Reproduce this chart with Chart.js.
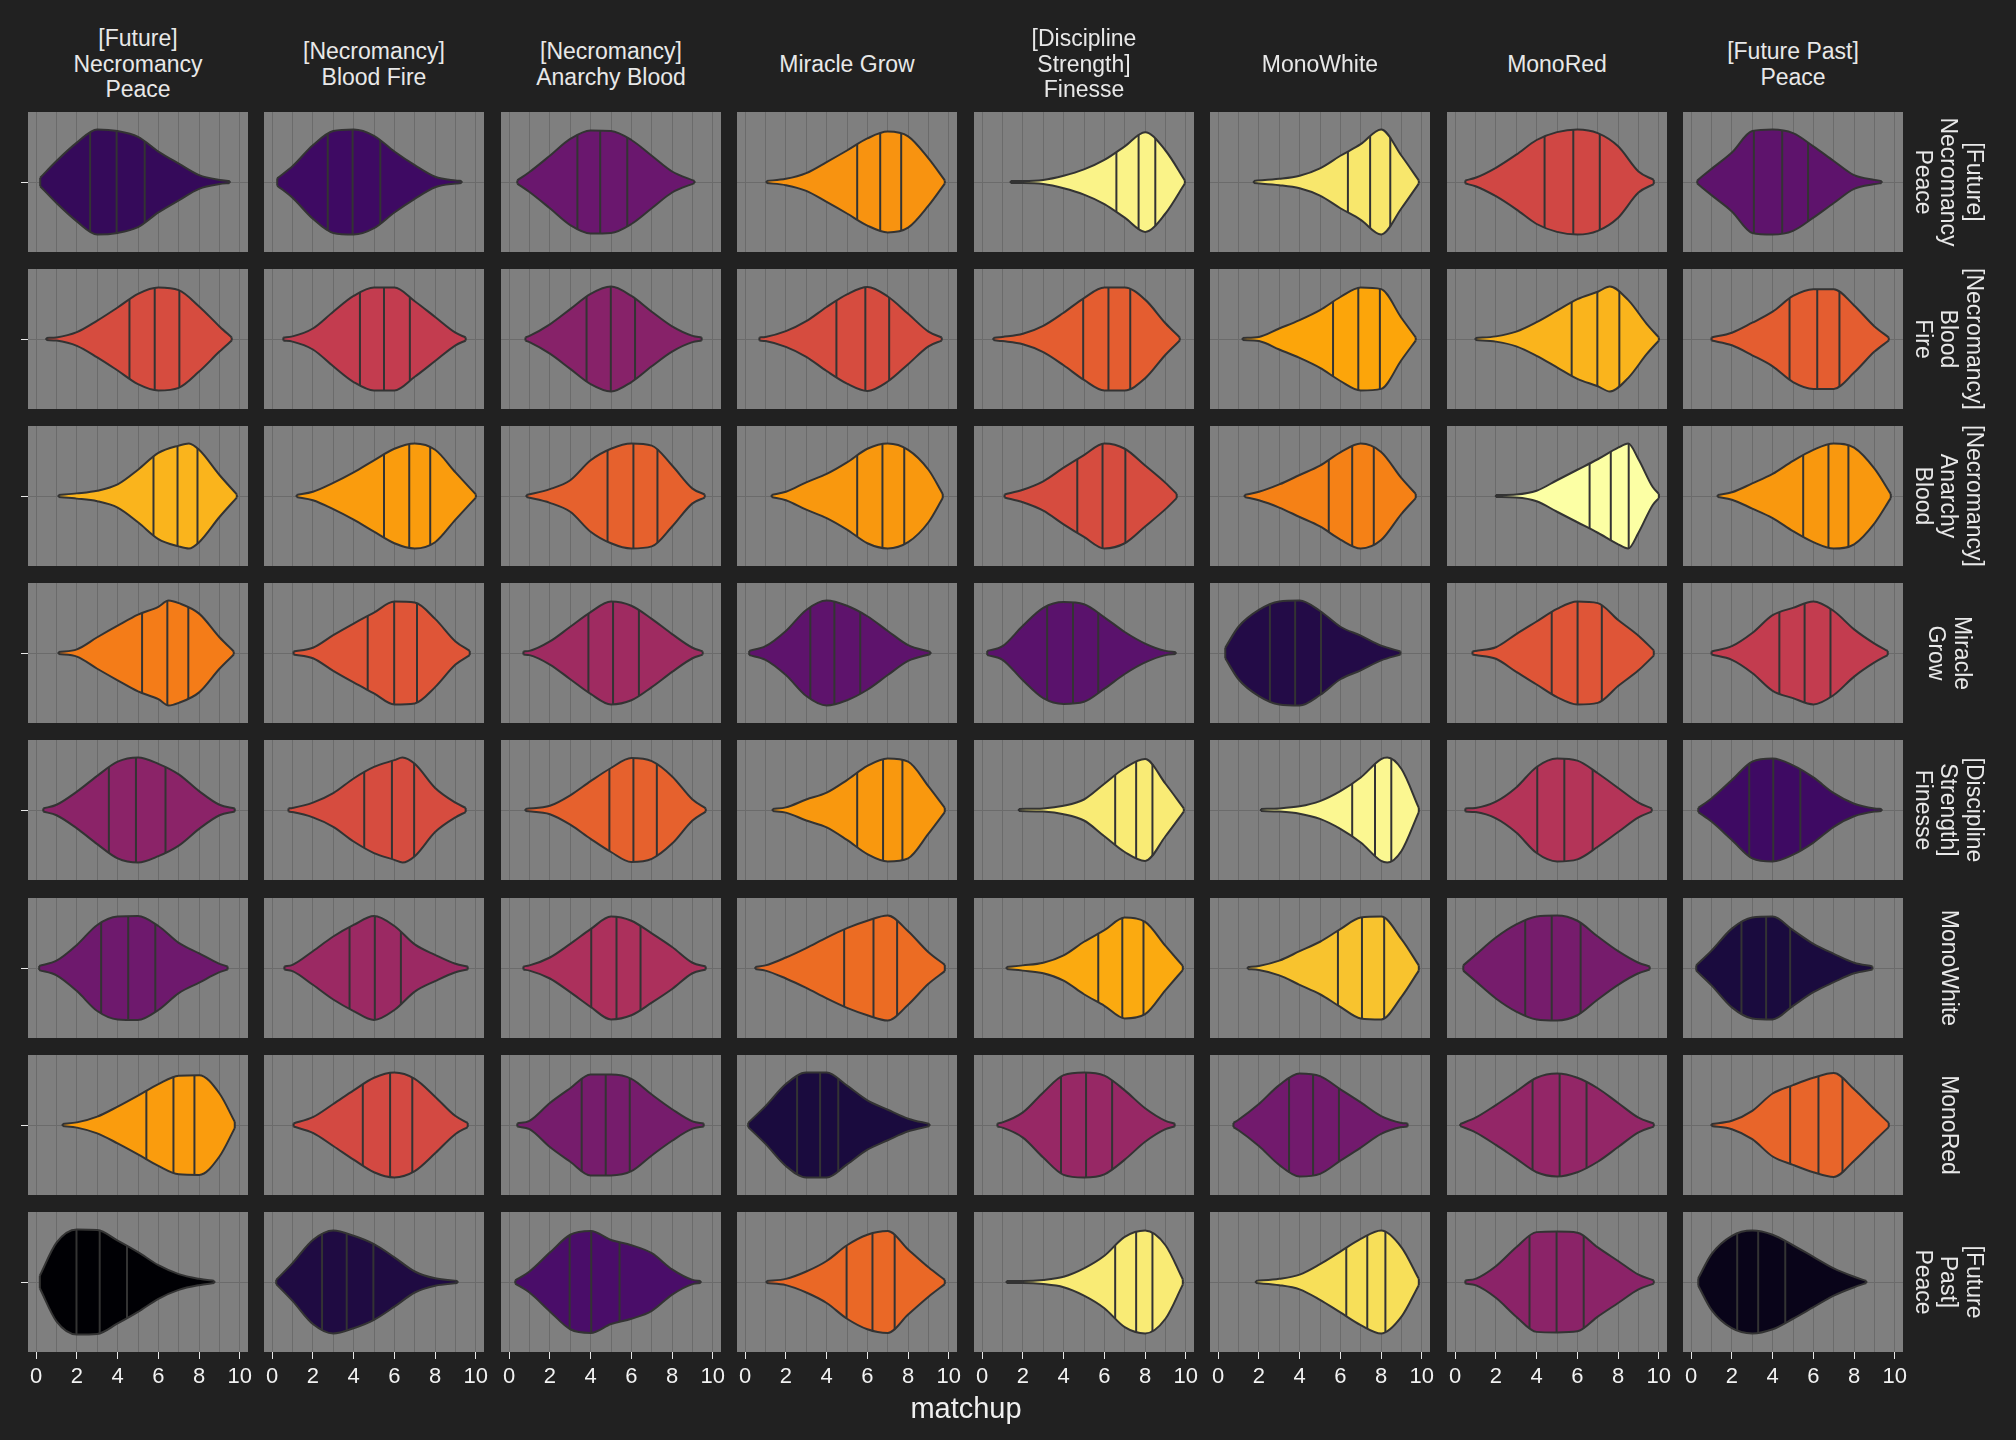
<!DOCTYPE html>
<html><head><meta charset="utf-8">
<script src="https://cdn.jsdelivr.net/npm/chart.js@4/dist/chart.umd.min.js"></script>
<style>
html,body{margin:0;padding:0;background:#212121;}
body{width:2016px;height:1440px;position:relative;overflow:hidden;font-family:"Liberation Sans",Arial,sans-serif;}
canvas{position:absolute;}
.strip{position:absolute;color:#e8e8e8;font-size:23px;line-height:25.5px;text-align:center;white-space:pre;}
.rstrip{position:absolute;color:#e8e8e8;font-size:23px;line-height:25.5px;text-align:center;white-space:pre;width:180px;transform:translate(-50%,-50%) rotate(90deg);}
#xtitle{position:absolute;color:#f0f0f0;font-size:29px;line-height:29px;left:866px;width:200px;text-align:center;top:1394px;}
</style></head><body>
<script>
// ---------- data ----------
const colLabels = ["[Future]\nNecromancy\nPeace","[Necromancy]\nBlood Fire","[Necromancy]\nAnarchy Blood","Miracle Grow","[Discipline\nStrength]\nFinesse","MonoWhite","MonoRed","[Future Past]\nPeace"];
const rowLabels = ["[Future]\nNecromancy\nPeace","[Necromancy]\nBlood\nFire","[Necromancy]\nAnarchy\nBlood","Miracle\nGrow","[Discipline\nStrength]\nFinesse","MonoWhite","MonoRed","[Future\nPast]\nPeace"];
const xTickValues = [0,1,2,3,4,5,6,7,8,9,10];
const xAxisTitle = "matchup";

// colour-scale position of each panel's fill (0 = darkest, 1 = lightest)
const fillLevel = [
  [0.17,0.19,0.30,0.76,0.97,0.94,0.56,0.27],
  [0.58,0.52,0.37,0.58,0.63,0.80,0.83,0.63],
  [0.83,0.78,0.64,0.77,0.58,0.72,1.00,0.77],
  [0.71,0.61,0.43,0.27,0.26,0.13,0.61,0.52],
  [0.38,0.58,0.64,0.77,0.95,0.98,0.48,0.19],
  [0.31,0.42,0.46,0.67,0.81,0.86,0.33,0.11],
  [0.78,0.57,0.33,0.11,0.41,0.32,0.40,0.65],
  [0.00,0.12,0.22,0.66,0.95,0.92,0.38,0.04]
];

// 25% / 50% / 75% quantiles per panel
const quartiles = [
  [[2.65,3.95,5.33],[2.73,3.95,5.31],[3.35,4.47,5.8],[5.5,6.63,7.66],[6.59,7.68,8.5],[6.37,7.46,8.45],[4.39,5.8,7.1],[3.08,4.47,5.74]],
  [[4.58,5.82,7.03],[4.31,5.49,6.76],[3.8,4.99,6.18],[4.48,5.9,7.07],[4.96,6.2,7.27],[5.64,6.88,7.94],[5.72,6.98,8.06],[4.83,6.19,7.28]],
  [[5.76,6.94,7.92],[5.49,6.73,7.76],[4.83,6.1,7.28],[5.5,6.74,7.81],[4.67,5.91,7.03],[5.43,6.58,7.64],[6.6,7.64,8.52],[5.5,6.74,7.72]],
  [[5.2,6.44,7.47],[4.69,5.99,7.11],[3.89,5.1,6.37],[3.2,4.38,5.65],[3.19,4.46,5.7],[2.54,3.78,5.05],[4.74,6.01,7.2],[4.33,5.57,6.84]],
  [[3.57,4.9,6.35],[4.52,5.88,6.97],[4.92,6.1,7.25],[5.5,6.77,7.72],[6.53,7.56,8.36],[6.58,7.7,8.5],[4.03,5.36,6.75],[2.85,4.03,5.36]],
  [[3.19,4.52,5.85],[3.8,5.04,6.32],[4.03,5.27,6.45],[4.86,6.3,7.46],[5.7,6.88,7.92],[5.88,7.06,8.15],[3.44,4.74,6.16],[2.47,3.68,4.86]],
  [[5.41,6.74,7.77],[4.45,5.79,6.88],[3.56,4.74,5.92],[2.55,3.68,4.57],[3.87,5.1,6.38],[3.48,4.66,5.93],[3.8,5.13,6.45],[4.86,6.25,7.43]],
  [[1.98,3.12,4.46],[2.45,3.66,4.97],[2.97,4.03,5.42],[4.98,6.25,7.34],[6.53,7.56,8.36],[6.29,7.32,8.21],[3.65,4.98,6.31],[2.26,3.29,4.62]]
];

// density profiles: [matchup value, relative density]
const densityRow1 = [
  [[0.2,0.08],[1,0.4],[2,0.75],[3,1.0],[4,0.97],[5,0.86],[6,0.58],[7,0.35],[8,0.13],[9,0.04],[9.5,0.02]],
  [[0.25,0.07],[1,0.3],[2,0.7],[3,0.97],[4,1.0],[5,0.88],[6,0.58],[7,0.32],[8,0.1],[9,0.03],[9.3,0.02]],
  [[0.4,0.03],[1,0.19],[2,0.5],[3,0.82],[4,0.98],[5,0.97],[6,0.8],[7,0.5],[8,0.2],[9.1,0.02]],
  [[1.05,0.02],[2,0.06],[3,0.17],[4,0.38],[5,0.6],[6,0.83],[7,0.96],[8,0.87],[9,0.45],[9.8,0.03]],
  [[1.4,0.02],[2,0.02],[3,0.04],[4,0.12],[5,0.24],[6,0.42],[7,0.68],[8,0.95],[9,0.6],[9.95,0.03]],
  [[1.75,0.02],[3,0.06],[4,0.12],[5,0.26],[6,0.5],[7,0.72],[8,1.0],[9,0.5],[9.85,0.03]],
  [[0.5,0.03],[1,0.08],[2,0.27],[3,0.52],[4,0.8],[5,0.95],[6,1.0],[7,0.93],[8,0.68],[9,0.2],[9.75,0.04]],
  [[0.3,0.03],[1,0.25],[2,0.56],[3,0.97],[4,1.0],[5,0.93],[6,0.68],[7,0.4],[8,0.13],[9,0.04],[9.35,0.02]]
];
const densityRow2 = [
  [[0.5,0.02],[1,0.03],[2,0.13],[3,0.35],[4,0.6],[5,0.86],[6,0.98],[7,0.93],[8,0.62],[9,0.24],[9.6,0.03]],
  [[0.55,0.03],[1,0.05],[2,0.2],[3,0.52],[4,0.82],[5,0.98],[6,0.98],[7,0.72],[8,0.42],[9,0.12],[9.5,0.03]],
  [[0.8,0.03],[1,0.06],[2,0.28],[3,0.57],[4,0.86],[5,1.0],[6,0.82],[7,0.52],[8,0.24],[9,0.06],[9.45,0.03]],
  [[0.7,0.03],[1,0.04],[2,0.15],[3,0.34],[4,0.61],[5,0.85],[6,0.99],[7,0.81],[8,0.48],[9,0.14],[9.65,0.03]],
  [[0.55,0.02],[1,0.04],[2,0.1],[3,0.25],[4,0.5],[5,0.78],[6,0.98],[7,0.98],[8,0.75],[9,0.3],[9.7,0.03]],
  [[1.2,0.02],[2,0.04],[3,0.2],[4,0.36],[5,0.55],[6,0.8],[7,0.98],[8,0.95],[9,0.4],[9.7,0.03]],
  [[1.0,0.02],[2,0.05],[3,0.14],[4,0.32],[5,0.54],[6,0.76],[7,0.9],[7.6,1.0],[8.5,0.74],[9.4,0.29],[10,0.03]],
  [[1.0,0.03],[2,0.12],[3,0.31],[4,0.52],[5,0.82],[6,0.95],[7,0.95],[8,0.64],[9,0.24],[9.7,0.03]]
];
const densityRow3 = [
  [[1.1,0.02],[2,0.05],[3,0.1],[4,0.22],[5,0.5],[6,0.82],[7,0.96],[7.5,1.0],[8,0.88],[9,0.4],[9.85,0.03]],
  [[1.2,0.02],[2,0.08],[3,0.25],[4,0.45],[5,0.68],[6,0.9],[7,1.0],[8,0.88],[9,0.45],[10,0.03]],
  [[0.85,0.02],[2,0.13],[3,0.3],[4,0.68],[5,0.9],[6,1.0],[7,0.96],[8,0.58],[9,0.14],[9.6,0.03]],
  [[1.3,0.02],[2,0.08],[3,0.26],[4,0.42],[5,0.64],[6,0.9],[7,1.0],[8,0.88],[9,0.5],[9.7,0.04]],
  [[1.1,0.03],[2,0.12],[3,0.28],[4,0.54],[5,0.78],[6,1.0],[7,0.9],[8,0.58],[9,0.25],[9.55,0.04]],
  [[1.3,0.02],[2,0.08],[3,0.22],[4,0.4],[5,0.58],[6,0.83],[7,1.0],[8,0.84],[9,0.34],[9.7,0.04]],
  [[2.0,0.02],[3,0.03],[4,0.1],[5,0.3],[6,0.5],[7,0.7],[8,0.92],[8.5,1.0],[9,0.7],[9.7,0.17],[10,0.04]],
  [[1.3,0.02],[2,0.07],[3,0.24],[4,0.42],[5,0.67],[6,0.88],[7,1.0],[8,0.92],[9,0.52],[9.8,0.04]]
];
const densityRow4 = [
  [[1.1,0.02],[2,0.07],[3,0.3],[4,0.52],[5,0.73],[6,0.88],[6.5,1.0],[7,0.95],[8,0.75],[9,0.3],[9.7,0.03]],
  [[1.05,0.03],[2,0.1],[3,0.34],[4,0.56],[5,0.77],[6,0.98],[7,0.96],[8,0.65],[9,0.22],[9.7,0.04]],
  [[0.7,0.03],[1,0.04],[2,0.22],[3,0.5],[4,0.78],[5,0.98],[6,0.9],[7,0.65],[8,0.36],[9,0.1],[9.5,0.03]],
  [[0.2,0.04],[1,0.13],[2,0.42],[3,0.82],[4,1.0],[5,0.9],[6,0.7],[7,0.42],[8,0.15],[9.1,0.02]],
  [[0.25,0.04],[1,0.13],[2,0.52],[3,0.86],[4,0.97],[5,0.93],[6,0.68],[7,0.4],[8,0.18],[9,0.04],[9.5,0.02]],
  [[0.35,0.1],[1,0.5],[2,0.82],[3,0.98],[4,1.0],[5,0.8],[6,0.5],[7,0.33],[8,0.14],[8.95,0.03]],
  [[0.85,0.03],[1,0.04],[2,0.11],[3,0.36],[4,0.6],[5,0.84],[6,0.98],[7,0.95],[8,0.63],[9,0.33],[9.75,0.05]],
  [[1.0,0.03],[2,0.13],[3,0.38],[4,0.72],[5,0.86],[6,0.98],[7,0.8],[8,0.45],[9,0.18],[9.65,0.04]]
];
const densityRow5 = [
  [[0.35,0.03],[1,0.1],[2,0.35],[3,0.65],[4,0.92],[5,1.0],[6,0.88],[7,0.68],[8,0.36],[9,0.1],[9.75,0.03]],
  [[0.8,0.03],[1,0.04],[2,0.14],[3,0.32],[4,0.6],[5,0.82],[6,0.95],[6.4,1.0],[7,0.88],[8,0.42],[9,0.14],[9.5,0.04]],
  [[0.8,0.02],[2,0.08],[3,0.28],[4,0.55],[5,0.8],[6,0.99],[7,0.93],[8,0.64],[9,0.2],[9.65,0.03]],
  [[1.35,0.02],[2,0.05],[3,0.2],[4,0.33],[5,0.57],[6,0.84],[7,0.98],[8,0.92],[9,0.45],[9.8,0.04]],
  [[1.8,0.02],[3,0.03],[4,0.08],[5,0.2],[6,0.5],[7,0.8],[8,0.97],[9,0.5],[9.9,0.03]],
  [[2.1,0.02],[3,0.03],[4,0.07],[5,0.17],[6,0.36],[7,0.62],[8,0.97],[8.3,1.0],[9,0.78],[9.85,0.04]],
  [[0.5,0.03],[1,0.04],[2,0.16],[3,0.43],[4,0.82],[5,0.98],[6,0.94],[7,0.7],[8,0.42],[9,0.14],[9.65,0.03]],
  [[0.35,0.04],[1,0.22],[2,0.57],[3,0.92],[4,0.98],[5,0.85],[6,0.62],[7,0.32],[8,0.12],[9,0.03],[9.35,0.02]]
];
const densityRow6 = [
  [[0.15,0.04],[1,0.14],[2,0.44],[3,0.82],[4,0.98],[5,0.99],[6,0.8],[7,0.48],[8,0.28],[9,0.08],[9.4,0.03]],
  [[0.6,0.03],[1,0.06],[2,0.32],[3,0.6],[4,0.82],[5,0.99],[6,0.8],[7,0.45],[8,0.25],[9,0.08],[9.6,0.03]],
  [[0.7,0.03],[1,0.05],[2,0.2],[3,0.46],[4,0.74],[5,0.98],[6,0.9],[7,0.66],[8,0.4],[9,0.1],[9.65,0.03]],
  [[0.5,0.02],[1,0.05],[2,0.2],[3,0.38],[4,0.58],[5,0.76],[6,0.9],[7,1.0],[8,0.7],[9,0.3],[9.8,0.06]],
  [[1.2,0.02],[2,0.05],[3,0.1],[4,0.24],[5,0.5],[6,0.72],[7,0.96],[8,0.88],[9,0.42],[9.85,0.04]],
  [[1.45,0.02],[2,0.04],[3,0.14],[4,0.32],[5,0.5],[6,0.74],[7,0.96],[8,0.98],[9,0.55],[9.85,0.05]],
  [[0.4,0.05],[1,0.25],[2,0.58],[3,0.83],[4,0.98],[5,1.0],[6,0.9],[7,0.6],[8,0.32],[9,0.1],[9.55,0.03]],
  [[0.25,0.05],[1,0.33],[2,0.75],[3,0.96],[4,0.98],[5,0.72],[6,0.46],[7,0.27],[8,0.1],[8.9,0.03]]
];
const densityRow7 = [
  [[1.3,0.02],[2,0.05],[3,0.16],[4,0.35],[5,0.56],[6,0.78],[7,0.94],[8,0.95],[9,0.6],[9.75,0.06]],
  [[1.05,0.03],[2,0.15],[3,0.4],[4,0.66],[5,0.9],[6,1.0],[7,0.88],[8,0.54],[9,0.17],[9.6,0.04]],
  [[0.4,0.03],[1,0.08],[2,0.42],[3,0.7],[4,0.96],[5,0.96],[6,0.88],[7,0.58],[8,0.3],[9,0.07],[9.55,0.03]],
  [[0.15,0.04],[1,0.36],[2,0.78],[3,1.0],[4,1.0],[5,0.75],[6,0.47],[7,0.29],[8,0.12],[9.05,0.02]],
  [[0.75,0.03],[1,0.05],[2,0.24],[3,0.62],[4,0.95],[5,1.0],[6,0.94],[7,0.66],[8,0.32],[9,0.08],[9.45,0.03]],
  [[0.75,0.04],[1,0.1],[2,0.4],[3,0.76],[4,0.98],[5,0.93],[6,0.68],[7,0.43],[8,0.17],[9,0.04],[9.3,0.03]],
  [[0.25,0.02],[1,0.14],[2,0.38],[3,0.64],[4,0.9],[5,0.98],[6,0.9],[7,0.7],[8,0.42],[9,0.14],[9.75,0.03]],
  [[1.0,0.02],[2,0.08],[3,0.27],[4,0.6],[5,0.76],[6,0.9],[7,0.99],[8,0.68],[9,0.3],[9.7,0.04]]
];
const densityRow8 = [
  [[0.18,0.12],[1,0.75],[2,1.0],[3,0.99],[4,0.79],[5,0.57],[6,0.32],[7,0.15],[8,0.06],[8.75,0.02]],
  [[0.2,0.04],[1,0.36],[2,0.8],[3,0.98],[4,0.88],[5,0.72],[6,0.47],[7,0.2],[8,0.07],[9.1,0.02]],
  [[0.3,0.03],[1,0.2],[2,0.56],[3,0.9],[4,0.97],[5,0.8],[6,0.7],[7,0.55],[8,0.24],[9,0.04],[9.4,0.02]],
  [[1.05,0.02],[2,0.06],[3,0.2],[4,0.4],[5,0.7],[6,0.9],[7,0.97],[8,0.62],[9,0.28],[9.8,0.04]],
  [[1.2,0.02],[2,0.02],[3,0.04],[4,0.1],[5,0.26],[6,0.5],[7,0.86],[8,0.98],[9,0.7],[9.85,0.05]],
  [[1.85,0.02],[3,0.06],[4,0.14],[5,0.34],[6,0.58],[7,0.82],[8,0.98],[9,0.66],[9.85,0.06]],
  [[0.5,0.03],[1,0.06],[2,0.3],[3,0.66],[4,0.95],[5,0.96],[6,0.94],[7,0.66],[8,0.4],[9,0.14],[9.75,0.03]],
  [[0.35,0.07],[1,0.53],[2,0.88],[3,0.98],[4,0.9],[5,0.7],[6,0.48],[7,0.26],[8,0.1],[8.6,0.02]]
];
const densityRows = [densityRow1,densityRow2,densityRow3,densityRow4,densityRow5,densityRow6,densityRow7,densityRow8];

// ---------- style / layout ----------
const INFERNO = ['#000004','#160b39','#420a68','#6a176e','#932667','#bc3754','#dd513a','#f37819','#fca50a','#f6d746','#fcffa4'];
const PANEL_W = 220, PANEL_H = 140;
const X0 = 28, XSTEP = 236.43, Y0 = 112, YSTEP = 157.1;
const YAX_W = 8, PAD_R = 14, XAX_H = 44;
const HALF = 0.45;
const OUTLINE = '#333333';
const GRID = '#6b6b6b';
Chart.defaults.font.family = '"Liberation Sans", Arial, sans-serif';

function hexRgb(h){return [1,3,5].map(i=>parseInt(h.substr(i,2),16));}
function inferno(t){
  t=Math.max(0,Math.min(1,t));
  const s=t*(INFERNO.length-1), i=Math.min(Math.floor(s),INFERNO.length-2), f=s-i;
  const a=hexRgb(INFERNO[i]), b=hexRgb(INFERNO[i+1]);
  const c=a.map((v,k)=>Math.round(v+(b[k]-v)*f));
  return `rgb(${c[0]},${c[1]},${c[2]})`;
}
// evaluate the same monotone cubic Chart.js draws, to end quantile lines on the outline
function monotoneAt(pts, xq){
  const n=pts.length, xs=pts.map(p=>p[0]), ys=pts.map(p=>p[1]);
  const d=new Array(n).fill(0), m=new Array(n);
  for(let i=0;i<n-1;i++) d[i]=(ys[i+1]-ys[i])/(xs[i+1]-xs[i]);
  for(let i=0;i<n;i++){
    if(i===0) m[i]=d[0]; else if(i===n-1) m[i]=d[n-2];
    else m[i]=(Math.sign(d[i-1])!==Math.sign(d[i]))?0:(d[i-1]+d[i])/2;
  }
  for(let i=0;i<n-1;i++){
    if(Math.abs(d[i])<1e-12){m[i]=m[i+1]=0;continue;}
    const a=m[i]/d[i], b=m[i+1]/d[i], sq=a*a+b*b;
    if(sq<=9) continue;
    const tau=3/Math.sqrt(sq); m[i]=a*tau*d[i]; m[i+1]=b*tau*d[i];
  }
  let k=0; while(k<n-2 && xq>xs[k+1]) k++;
  const h=xs[k+1]-xs[k], t=(xq-xs[k])/h, t2=t*t, t3=t2*t;
  return (2*t3-3*t2+1)*ys[k]+(t3-2*t2+t)*h*m[k]+(-2*t3+3*t2)*ys[k+1]+(t3-t2)*h*m[k+1];
}

const panelBg = {id:'panelBg', beforeDraw(chart){
  const a=chart.chartArea, ctx=chart.ctx; ctx.save(); ctx.fillStyle='#7f7f7f';
  ctx.fillRect(a.left,a.top,a.right-a.left,a.bottom-a.top); ctx.restore(); }};

function lineDs(data, extra){
  return Object.assign({data, borderColor:OUTLINE, borderWidth:2, pointRadius:0, fill:false, tension:0}, extra||{});
}

for(let r=0;r<8;r++){
  for(let c=0;c<8;c++){
    const bottom = r===7;
    const prof = densityRows[r][c];
    const col = inferno(fillLevel[r][c]);
    const top = prof.map(p=>({x:p[0], y:p[1]*HALF}));
    const bot = prof.map(p=>({x:p[0], y:-p[1]*HALF}));
    const first = prof[0], last = prof[prof.length-1];
    const ds = [
      lineDs(top,{fill:'+1', backgroundColor:col, cubicInterpolationMode:'monotone'}),
      lineDs(bot,{cubicInterpolationMode:'monotone'}),
      lineDs([{x:first[0],y:-first[1]*HALF},{x:first[0],y:first[1]*HALF}]),
      lineDs([{x:last[0],y:-last[1]*HALF},{x:last[0],y:last[1]*HALF}])
    ];
    quartiles[r][c].forEach(q=>{
      const w = monotoneAt(prof, q)*HALF;
      ds.push(lineDs([{x:q,y:-w},{x:q,y:w}]));
    });
    const cv = document.createElement('canvas');
    cv.width = YAX_W + PANEL_W + PAD_R;
    cv.height = PANEL_H + (bottom ? XAX_H : 0);
    cv.style.left = (Math.round(X0 + c*XSTEP) - YAX_W) + 'px';
    cv.style.top = Math.round(Y0 + r*YSTEP) + 'px';
    document.body.appendChild(cv);
    new Chart(cv, {
      type:'line',
      data:{datasets:ds},
      options:{
        responsive:false, animation:false, devicePixelRatio:1, events:[],
        layout:{padding:{left:0,right:PAD_R,top:0,bottom:0}},
        plugins:{legend:{display:false}, tooltip:{enabled:false}, filler:{drawTime:'beforeDatasetsDraw'}},
        scales:{
          x:{type:'linear', min:-0.4, max:10.4,
             afterBuildTicks:s=>{s.ticks = xTickValues.map(v=>({value:v}));},
             afterFit:s=>{s.height = bottom ? XAX_H : 0; s.paddingLeft=0; s.paddingRight=0;},
             border:{display:false},
             grid:{color:GRID, lineWidth:1, drawTicks:bottom, tickLength:7, tickWidth:1,
                   tickColor:ctx=>(ctx.tick && ctx.tick.value%2===0)?'#e8e8e8':'rgba(0,0,0,0)'},
             ticks:{display:bottom, autoSkip:false, maxRotation:0, padding:5, color:'#f2f2f2',
                    font:{size:22}, callback:v=>(v%2===0?String(v):'')}},
          y:{type:'linear', min:-0.6, max:0.6,
             afterBuildTicks:s=>{s.ticks=[{value:0}];},
             afterFit:s=>{s.width = YAX_W; s.paddingTop=0; s.paddingBottom=0;},
             border:{display:false},
             grid:{color:GRID, lineWidth:1, drawTicks:true, tickLength:7, tickWidth:1,
                   tickColor: c===0 ? '#e8e8e8' : 'rgba(0,0,0,0)'},
             ticks:{display:false}}
        }
      },
      plugins:[panelBg]
    });
  }
}

// strip labels
colLabels.forEach((t,c)=>{
  const d=document.createElement('div'); d.className='strip';
  const n=t.split('\n').length;
  d.textContent=t;
  d.style.left=Math.round(X0+c*XSTEP)+'px'; d.style.width=PANEL_W+'px';
  d.style.top=(64.5 - n*12.75)+'px';
  document.body.appendChild(d);
});
rowLabels.forEach((t,r)=>{
  const d=document.createElement('div'); d.className='rstrip';
  d.textContent=t;
  d.style.left='1949px'; d.style.top=(Y0+r*YSTEP+PANEL_H/2)+'px';
  document.body.appendChild(d);
});
const xt=document.createElement('div'); xt.id='xtitle'; xt.textContent=xAxisTitle; document.body.appendChild(xt);
</script>
</body></html>
